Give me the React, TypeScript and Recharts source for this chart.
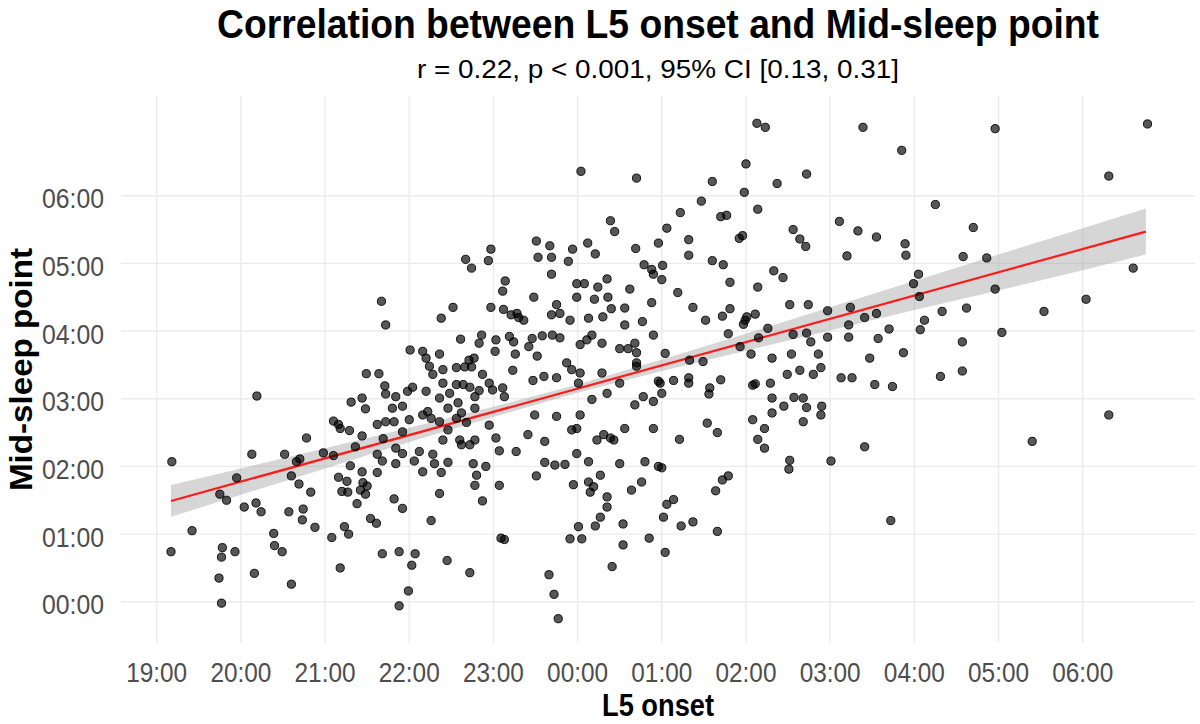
import React from 'react';
import { ComposedChart, Scatter, Line, Area, XAxis, YAxis, CartesianGrid } from 'recharts';

// L5 onset (clock hours, 19 = 19:00, 25 = 01:00 next day) vs mid-sleep point (clock hours)
const observations: [number, number][] = [
  [21.67, 4.44], [21.72, 4.09],
  [24.04, 6.36], [24.70, 6.26], [24.39, 5.63], [24.44, 5.47], [23.51, 5.33], [23.67, 5.26], [22.97, 5.21], [22.94, 5.04],
  [23.53, 5.09], [23.69, 5.09], [23.94, 5.21], [23.89, 5.03], [24.12, 5.30], [24.21, 5.14], [24.69, 5.22], [24.96, 5.30],
  [22.67, 5.06], [22.74, 4.93], [23.69, 4.84], [24.79, 4.98], [24.88, 4.91], [24.90, 4.84], [23.14, 4.74], [23.11, 4.59],
  [23.48, 4.50], [23.99, 4.70], [24.08, 4.70], [24.35, 4.77], [24.24, 4.65], [23.99, 4.50], [24.20, 4.47], [24.36, 4.50],
  [24.62, 4.62], [24.88, 4.42], [22.52, 4.35], [22.38, 4.19], [22.97, 4.35], [23.12, 4.32], [23.21, 4.24], [23.28, 4.26],
  [23.30, 4.20], [23.36, 4.16], [23.75, 4.39], [23.69, 4.24], [23.79, 4.26], [23.91, 4.16], [24.13, 4.19], [24.30, 4.21],
  [24.40, 4.33], [24.56, 4.34], [24.56, 4.09], [24.77, 4.14], [22.61, 3.88], [22.86, 3.94], [22.83, 3.82], [23.03, 3.87],
  [23.19, 3.92], [23.24, 3.84], [23.02, 3.70], [23.26, 3.66], [23.42, 3.77], [23.46, 3.89], [23.58, 3.93], [23.70, 3.94],
  [23.79, 3.90], [23.52, 3.63], [22.01, 3.72], [22.16, 3.70], [22.20, 3.60], [22.36, 3.66], [22.71, 3.57], [22.77, 3.60],
  [23.87, 3.53], [24.03, 3.80], [24.11, 3.87], [24.17, 3.94], [24.29, 3.82], [24.50, 3.74], [24.60, 3.74], [24.68, 3.82],
  [24.70, 3.68], [24.90, 3.94], [24.70, 3.53],
  [26.13, 7.07], [26.23, 7.01], [27.39, 7.01], [27.85, 6.67], [26.00, 6.47], [25.60, 6.21], [26.72, 6.32], [26.37, 6.18],
  [25.98, 6.05], [25.47, 5.92], [25.22, 5.75], [25.70, 5.69], [25.77, 5.71], [26.14, 5.80], [25.06, 5.52], [25.32, 5.35],
  [25.32, 5.12], [25.92, 5.37], [25.96, 5.41], [26.56, 5.50], [26.64, 5.36], [26.71, 5.25], [27.11, 5.62], [27.33, 5.48],
  [27.55, 5.39], [27.20, 5.11], [27.89, 5.29], [27.90, 5.12], [25.01, 4.97], [25.00, 4.76], [25.60, 5.04], [25.73, 4.98],
  [25.81, 4.72], [26.33, 4.89], [26.44, 4.79], [26.14, 4.65], [25.19, 4.57], [25.37, 4.35], [25.52, 4.16], [25.72, 4.22],
  [25.81, 4.33], [25.99, 4.16], [26.01, 4.21], [26.11, 4.25], [25.97, 4.10], [26.52, 4.39], [26.74, 4.39], [26.97, 4.30],
  [27.24, 4.35], [27.41, 4.20], [27.55, 4.26], [27.22, 4.09], [28.05, 4.84], [27.99, 4.70], [28.06, 4.51], [28.12, 4.16],
  [28.07, 4.02], [25.79, 3.96], [26.15, 3.90], [25.93, 3.77], [26.26, 4.04], [26.56, 3.95], [26.72, 3.97], [26.77, 3.84],
  [26.97, 3.91], [27.22, 3.91], [27.57, 3.89], [27.70, 4.03], [25.04, 3.67], [25.33, 3.57], [25.49, 3.55], [26.06, 3.66],
  [26.31, 3.60], [26.54, 3.66], [26.86, 3.66], [27.47, 3.60], [27.87, 3.68],
  [28.96, 6.99], [30.77, 7.06], [30.31, 6.29], [28.25, 5.87], [28.70, 5.53], [28.58, 5.10], [28.86, 5.08], [30.60, 4.93],
  [28.96, 4.62], [28.33, 4.29], [28.62, 4.34], [29.54, 4.29], [30.04, 4.47], [29.04, 3.98], [28.57, 3.84],
  [20.19, 3.04], [19.18, 2.07], [21.49, 3.37], [21.64, 3.37], [21.71, 3.19], [21.72, 3.07], [21.31, 2.95], [21.44, 3.01],
  [21.48, 2.85], [21.10, 2.67], [21.16, 2.62], [21.18, 2.56], [21.29, 2.53], [21.44, 2.45], [21.62, 2.62], [21.72, 2.66],
  [21.69, 2.41], [20.78, 2.42], [20.13, 2.18], [20.52, 2.18], [20.70, 2.11], [20.66, 2.07], [20.98, 2.20], [21.10, 2.16],
  [21.36, 2.29], [21.30, 2.01], [21.62, 2.18], [21.68, 2.08], [21.62, 1.91], [19.95, 1.83], [19.75, 1.59], [19.83, 1.50],
  [20.60, 1.86], [20.69, 1.74], [20.83, 1.62], [21.16, 1.84], [21.26, 1.78], [21.20, 1.63], [21.44, 1.92], [21.45, 1.76],
  [21.50, 1.71], [21.42, 1.65], [21.48, 1.59], [21.27, 1.62], [21.38, 1.45], [20.04, 1.40], [20.18, 1.46], [20.24, 1.33],
  [20.57, 1.33], [20.74, 1.37], [20.73, 1.21], [20.88, 1.10], [21.54, 1.23], [21.61, 1.16], [21.23, 1.11], [21.28, 1.00],
  [21.08, 0.95], [19.42, 1.05], [19.17, 0.74], [19.78, 0.80], [19.77, 0.66], [19.93, 0.74], [20.39, 1.01], [20.40, 0.83],
  [20.49, 0.74], [19.74, 0.35], [20.16, 0.42], [20.60, 0.26], [21.18, 0.50], [21.68, 0.71], [19.77, -0.02],
  [22.24, 3.48], [22.40, 3.43], [22.56, 3.46], [22.66, 3.47], [22.74, 3.47], [22.87, 3.36], [23.23, 3.42], [23.47, 3.27],
  [23.60, 3.33], [23.75, 3.31], [23.93, 3.43], [24.03, 3.38], [24.01, 3.23], [24.29, 3.38], [24.35, 3.08], [24.50, 3.23],
  [24.70, 3.48], [24.78, 3.03], [24.68, 2.91], [24.90, 2.96], [24.96, 3.26],
  [21.84, 3.03], [21.80, 2.86], [21.92, 2.89], [21.98, 3.11], [22.04, 3.17], [22.20, 3.11], [22.28, 3.36], [22.36, 3.01],
  [22.40, 3.23], [22.56, 3.21], [22.48, 3.08], [22.64, 3.21], [22.72, 3.17], [22.78, 3.03], [22.83, 3.12], [22.95, 3.23],
  [22.99, 3.13], [23.11, 3.16], [23.13, 3.03], [22.78, 2.86], [22.22, 2.81], [22.16, 2.76], [22.26, 2.71], [22.36, 2.66],
  [22.46, 2.86], [22.58, 2.94], [22.62, 2.79], [21.82, 2.66], [21.92, 2.51], [22.00, 2.69], [22.46, 2.54], [22.56, 2.71],
  [22.68, 2.65], [22.95, 2.61], [22.40, 2.39], [22.60, 2.39], [22.62, 2.32], [22.72, 2.32], [22.78, 2.39], [23.03, 2.42],
  [23.07, 2.23], [23.27, 2.22], [23.41, 2.47], [23.61, 2.37], [23.49, 2.76], [23.75, 2.74], [23.93, 2.54], [23.99, 2.56],
  [24.03, 2.76], [24.17, 2.99], [24.23, 2.39], [24.31, 2.47], [24.39, 2.42], [24.43, 2.39], [24.56, 2.56], [24.90, 2.56],
  [21.84, 2.27], [21.92, 2.19], [21.84, 2.04], [22.12, 2.22], [22.06, 2.08], [22.16, 1.92], [22.28, 2.18], [22.30, 2.04],
  [22.38, 1.91], [22.46, 2.06], [22.76, 2.04], [22.80, 1.87], [22.91, 2.00], [22.78, 1.72], [23.07, 1.72], [22.87, 1.49],
  [22.36, 1.60], [21.82, 1.52], [21.92, 1.38], [22.26, 1.20], [23.61, 2.06], [23.73, 2.02], [23.85, 2.03], [23.51, 1.86],
  [23.99, 2.19], [24.13, 2.07], [24.27, 1.87], [24.13, 1.77], [23.95, 1.73], [24.19, 1.70], [24.15, 1.62], [24.50, 2.04],
  [24.80, 2.07], [24.96, 2.00], [24.76, 1.77], [24.64, 1.65], [24.35, 1.55], [24.35, 1.40], [24.27, 1.25], [24.21, 1.12],
  [24.01, 1.11], [24.54, 1.15], [23.91, 0.93], [24.05, 0.93], [24.54, 0.84], [24.85, 0.94], [24.41, 0.52], [23.09, 0.94],
  [23.13, 0.92], [21.88, 0.74], [22.07, 0.71], [22.03, 0.54], [22.45, 0.61], [22.72, 0.43], [21.99, 0.16], [21.88, -0.06],
  [23.66, 0.40], [23.72, 0.11], [23.77, -0.25],
  [24.98, 3.23], [25.14, 3.27], [25.32, 3.31], [25.32, 3.23], [25.00, 3.08], [25.57, 3.16], [25.56, 3.07], [25.70, 3.28],
  [26.08, 3.20], [26.11, 3.22], [26.29, 3.23], [26.49, 3.36], [26.64, 3.42], [26.80, 3.36], [26.89, 3.46], [27.13, 3.31],
  [27.26, 3.31], [27.53, 3.21], [27.74, 3.18], [26.31, 3.01], [26.45, 2.89], [26.57, 3.02], [26.68, 3.01], [26.72, 2.87],
  [26.90, 2.89], [26.89, 2.76], [26.31, 2.79], [26.68, 2.66], [26.08, 2.69], [26.22, 2.56], [26.14, 2.40], [26.22, 2.27],
  [25.54, 2.64], [25.66, 2.50], [25.21, 2.40], [26.52, 2.09], [26.51, 1.96], [27.01, 2.08], [27.41, 2.29], [25.00, 1.98],
  [25.64, 1.64], [25.72, 1.80], [25.79, 1.86], [25.14, 1.51], [25.06, 1.44], [25.02, 1.25], [25.23, 1.12], [25.37, 1.18],
  [25.66, 1.04], [25.04, 0.73], [27.72, 1.20],
  [28.31, 3.33], [28.57, 3.41], [30.31, 2.76], [29.40, 2.37],
];

// Linear fit and its 95% confidence band
const fitX = [19.17, 30.75];
const fitY = [1.49, 5.47];
const bandX = [19.17, 20, 21, 22, 23, 24, 25, 26, 27, 28, 29, 30, 30.75];
const bandLow = [1.255, 1.58, 1.97, 2.36, 2.73, 3.09, 3.41, 3.71, 4.01, 4.31, 4.60, 4.90, 5.13];
const bandHigh = [1.725, 1.97, 2.27, 2.57, 2.88, 3.21, 3.58, 3.96, 4.35, 4.74, 5.13, 5.52, 5.81];

const xTicks = [19, 20, 21, 22, 23, 24, 25, 26, 27, 28, 29, 30];
const yTicks = [0, 1, 2, 3, 4, 5, 6];
const xDomain: [number, number] = [18.576, 31.334];
const yDomain: [number, number] = [-0.609, 7.473];

const titleText = 'Correlation between L5 onset and Mid-sleep point';
const subtitleText = 'r = 0.22, p < 0.001, 95% CI [0.13, 0.31]';
const xLabel = 'L5 onset';
const yLabel = 'Mid-sleep point';

const FONT = '"Liberation Sans", Arial, Helvetica, sans-serif';

const fmtClock = (v: number) => {
  const h = ((Math.round(v) % 24) + 24) % 24;
  return `${String(h).padStart(2, '0')}:00`;
};

const pointData = observations.map(([x, y]) => ({ x, y }));
const fitData = fitX.map((x, i) => ({ x, fit: fitY[i] }));
const bandData = bandX.map((x, i) => ({ x, band: [bandLow[i], bandHigh[i]] }));

const XTick = (props: any) => {
  const { x, y, payload } = props;
  return (
    <text x={x} y={y + 39} textAnchor="middle" fontFamily={FONT} fontSize={28} fill="#4d4d4d"
      textLength={61} lengthAdjust="spacingAndGlyphs">
      {fmtClock(payload.value)}
    </text>
  );
};

const YTick = (props: any) => {
  const { x, y, payload } = props;
  return (
    <text x={x - 17} y={y + 12.5} textAnchor="end" fontFamily={FONT} fontSize={28} fill="#4d4d4d"
      textLength={62} lengthAdjust="spacingAndGlyphs">
      {fmtClock(payload.value)}
    </text>
  );
};

const Dot = (props: any) => {
  const { cx, cy } = props;
  if (cx == null || cy == null) return null;
  return <circle cx={cx} cy={cy} r={4.1} fill="#000" fillOpacity={0.66} stroke="#000" strokeOpacity={0.9} strokeWidth={1} />;
};

// Grid lines placed through the axis scales, only at the tick values
const vGen = (args: any) => {
  const { xAxis, offset } = args || {};
  if (xAxis && typeof xAxis.scale === 'function') return xTicks.map((t) => xAxis.scale(t));
  const o = offset || { left: 121, width: 1074 };
  return xTicks.map((t) => o.left + ((t - xDomain[0]) / (xDomain[1] - xDomain[0])) * o.width);
};
const hGen = (args: any) => {
  const { yAxis, offset } = args || {};
  if (yAxis && typeof yAxis.scale === 'function') return yTicks.map((t) => yAxis.scale(t));
  const o = offset || { top: 96, height: 547 };
  return yTicks.map((t) => o.top + ((yDomain[1] - t) / (yDomain[1] - yDomain[0])) * o.height);
};

export default function App() {
  return (
    <div style={{ position: 'absolute', left: 0, top: 0, width: 1200, height: 724, background: '#fff' }}>
      <ComposedChart width={1200} height={724} margin={{ top: 96, right: 5, bottom: 0, left: 0 }}>
        <CartesianGrid stroke="#ebebeb" strokeWidth={1.4} verticalCoordinatesGenerator={vGen}
          horizontalCoordinatesGenerator={hGen} />
        <XAxis type="number" dataKey="x" domain={xDomain} ticks={xTicks} allowDataOverflow
          axisLine={false} tickLine={false} tickSize={0} tickMargin={0} height={81} tick={<XTick />} interval={0} />
        <YAxis type="number" domain={yDomain} ticks={yTicks} allowDataOverflow
          axisLine={false} tickLine={false} tickSize={0} tickMargin={0} width={121} tick={<YTick />} interval={0} />
        <Scatter data={pointData} dataKey="y" shape={<Dot />} isAnimationActive={false} />
        <Area data={bandData} dataKey="band" type="linear" fill="#999999" fillOpacity={0.4} stroke="none"
          isAnimationActive={false} dot={false} activeDot={false} />
        <Line data={fitData} dataKey="fit" type="linear" stroke="#ff1a1a" strokeWidth={2.2} dot={false}
          activeDot={false} isAnimationActive={false} />
      </ComposedChart>
      <svg width={1200} height={724} style={{ position: 'absolute', left: 0, top: 0, pointerEvents: 'none' }}>
        <text x={658} y={38} textAnchor="middle" fontFamily={FONT} fontWeight="bold" fontSize={40} fill="#000"
          textLength={882} lengthAdjust="spacingAndGlyphs">{titleText}</text>
        <text x={658} y={78} textAnchor="middle" fontFamily={FONT} fontSize={25} fill="#000"
          textLength={482} lengthAdjust="spacingAndGlyphs">{subtitleText}</text>
        <text x={658} y={716} textAnchor="middle" fontFamily={FONT} fontWeight="bold" fontSize={32} fill="#000"
          textLength={112} lengthAdjust="spacingAndGlyphs">{xLabel}</text>
        <text x={0} y={0} transform="translate(32, 369.5) rotate(-90)" textAnchor="middle" fontFamily={FONT}
          fontWeight="bold" fontSize={32} fill="#000" textLength={243} lengthAdjust="spacingAndGlyphs">{yLabel}</text>
      </svg>
    </div>
  );
}
